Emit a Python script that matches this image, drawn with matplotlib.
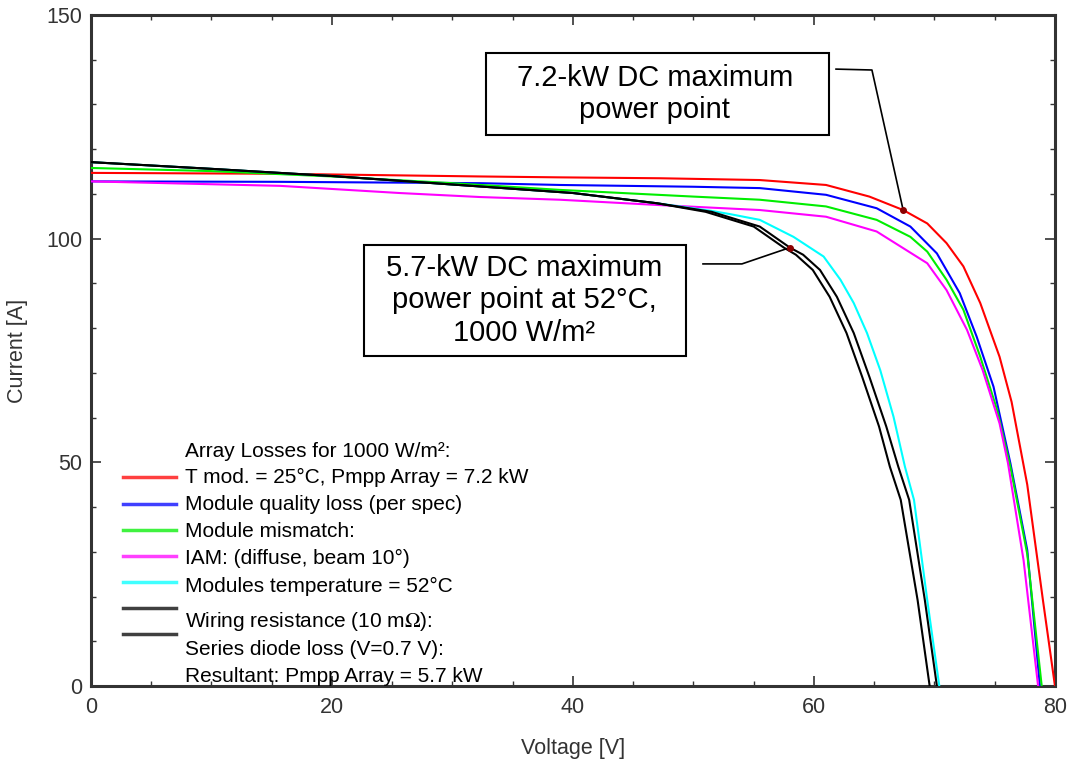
import matplotlib
matplotlib.use("Agg")
import matplotlib.pyplot as plt
from matplotlib.patches import Rectangle
from matplotlib.ticker import MultipleLocator

plt.rcParams['font.family'] = ['Liberation Sans', 'DejaVu Sans']
plt.rcParams['mathtext.fontset'] = 'stix'

# I-V curves (voltage [V], current [A])
red_v = [0, 15.7, 32.3, 38.9, 47.2, 55.5, 61.0, 64.6, 67.4, 69.4, 71.0, 72.4, 73.8, 75.4, 76.4, 77.7, 79.0, 80.0]
red_i = [114.7, 114.5, 113.9, 113.7, 113.5, 113.1, 112.0, 109.4, 106.4, 103.4, 99.0, 93.8, 85.6, 73.6, 63.5, 45.0, 19.2, 0]

blue_v = [0, 15.7, 32.3, 38.9, 50.0, 55.5, 61.0, 65.2, 68.0, 70.2, 72.1, 73.5, 74.9, 76.3, 77.7, 78.75]
blue_i = [112.8, 112.7, 112.4, 112.0, 111.6, 111.3, 109.8, 106.8, 102.7, 96.7, 87.8, 78.1, 66.9, 49.8, 30.4, 0]

green_v = [0, 10, 20, 30, 38.9, 50.0, 55.5, 61.0, 65.2, 68.0, 69.4, 71.0, 72.4, 73.8, 75.2, 76.3, 77.7, 78.9]
green_i = [115.8, 115.1, 113.9, 112.4, 110.9, 109.4, 108.7, 107.2, 104.2, 100.4, 97.1, 90.8, 84.1, 73.6, 61.7, 49.0, 29.5, 0]

magenta_v = [0, 15.7, 25.6, 32.3, 38.9, 47.2, 55.5, 61.0, 65.2, 69.4, 71.0, 72.7, 74.0, 75.4, 76.1, 77.4, 78.6]
magenta_i = [112.8, 111.8, 110.2, 109.3, 108.7, 107.5, 106.4, 104.9, 101.6, 94.5, 88.5, 79.6, 70.6, 58.7, 49.8, 28.0, 0]

cyan_v = [0, 10, 20, 30, 40, 47.0, 51.5, 53.0, 55.5, 58.3, 60.8, 62.2, 63.3, 64.4, 65.5, 66.6, 67.55, 68.3, 69.4, 70.4]
cyan_i = [117.1, 115.6, 114.0, 112.1, 110.2, 107.9, 106.2, 105.5, 104.2, 100.4, 96.0, 90.8, 85.6, 78.9, 70.6, 60.2, 49.0, 41.6, 19.2, 0]

wiring_v = [0, 10, 20, 30, 40, 47.0, 51.5, 55.5, 58.0, 59.1, 60.5, 61.9, 63.3, 64.6, 66.0, 67.0, 67.9, 69.2, 70.2]
wiring_i = [117.1, 115.6, 114.0, 112.1, 110.2, 107.9, 106.0, 102.7, 98.0, 96.4, 93.0, 87.0, 78.9, 69.1, 58.0, 49.0, 41.6, 19.2, 0]

diode_v = [0, 10, 20, 30, 40, 47.0, 51.0, 55.0, 57.5, 58.5, 59.9, 61.3, 62.7, 64.0, 65.4, 66.3, 67.2, 68.6, 69.6]
diode_i = [117.1, 115.6, 114.0, 112.1, 110.2, 107.9, 106.0, 102.7, 98.0, 96.4, 93.0, 87.0, 78.9, 69.1, 58.0, 49.0, 41.6, 19.2, 0]

# maximum power points
mpp_v = [67.4, 58.0]
mpp_i = [106.4, 98.0]

legend_title = "Array Losses for 1000 W/m\u00b2:"
legend_labels = [
    "T mod. = 25\u00b0C, Pmpp Array = 7.2 kW",
    "Module quality loss (per spec)",
    "Module mismatch:",
    "IAM: (diffuse, beam 10\u00b0)",
    "Modules temperature = 52\u00b0C",
    "Wiring resistance (10 m$\\Omega$):",
    "Series diode loss (V=0.7 V):",
    "Resultant: Pmpp Array = 5.7 kW",
]
colors = ["#ff0000", "#0000ff", "#00ee00", "#ff00ff", "#00ffff", "#000000", "#000000"]

fig = plt.figure(figsize=(10.68, 7.68), dpi=100)
ax = fig.add_axes([0.0852, 0.1068, 0.9026, 0.8737])

curves = [(red_v, red_i), (blue_v, blue_i), (green_v, green_i), (magenta_v, magenta_i),
          (cyan_v, cyan_i), (wiring_v, wiring_i), (diode_v, diode_i)]
for (v, i), c in zip(curves, colors):
    ax.plot(v, i, color=c, linewidth=1.5, zorder=3)

ax.plot(mpp_v, mpp_i, linestyle="none", marker="o", markersize=4, color="#8b0000", zorder=5)

# leader lines from the boxes to the MPP markers
ax.plot([61.83, 64.81, mpp_v[0]], [137.9, 137.7, mpp_i[0]], color="black", linewidth=1.2, zorder=4)
ax.plot([50.79, 54.02, mpp_v[1]], [94.35, 94.35, mpp_i[1]], color="black", linewidth=1.2, zorder=4)

# annotation boxes
ax.add_patch(Rectangle((0.4098, 0.8212), 0.3558, 0.1222, transform=ax.transAxes,
                       facecolor="white", edgecolor="black", linewidth=1.5, zorder=6))
ax.text(0.585, 0.882, "7.2-kW DC maximum\npower point", transform=ax.transAxes,
        ha="center", va="center", fontsize=21, zorder=7)
ax.add_patch(Rectangle((0.2832, 0.4918), 0.3340, 0.1654, transform=ax.transAxes,
                       facecolor="white", edgecolor="black", linewidth=1.5, zorder=6))
ax.text(0.4492, 0.5745, "5.7-kW DC maximum\npower point at 52\u00b0C,\n1000 W/m\u00b2", transform=ax.transAxes,
        ha="center", va="center", fontsize=21, zorder=7)

# hand-drawn legend
text_y = [0.3021, 0.2623, 0.2216, 0.1818, 0.1405, 0.0884, 0.0462, 0.0064]
line_y = [0.3110, 0.2712, 0.2325, 0.1942, 0.1545, 0.1158, 0.0770]
ax.text(0.0975, 0.3413, legend_title, transform=ax.transAxes, fontsize=15, va="baseline")
for lbl, ty in zip(legend_labels, text_y):
    ax.text(0.0975, ty, lbl, transform=ax.transAxes, fontsize=15, va="baseline", clip_on=True)
for c, ly in zip(colors, line_y):
    ax.plot([0.0332, 0.0882], [ly, ly], transform=ax.transAxes, color=c, linewidth=2.5, alpha=0.75)

ax.set_xlim(0, 80)
ax.set_ylim(0, 150)
ax.xaxis.set_major_locator(MultipleLocator(20))
ax.xaxis.set_minor_locator(MultipleLocator(5))
ax.yaxis.set_major_locator(MultipleLocator(50))
ax.yaxis.set_minor_locator(MultipleLocator(10))
ax.tick_params(which="both", direction="in", top=True, right=True, color="#333333",
               labelsize=15.5, labelcolor="#333333")
ax.tick_params(which="major", length=7, width=1.2)
ax.tick_params(which="minor", length=3.5, width=1)
ax.tick_params(axis="x", pad=8)
ax.tick_params(axis="y", pad=6)
for s in ax.spines.values():
    s.set_linewidth(2.2)
    s.set_color("#333333")

ax.set_xlabel("Voltage [V]", fontsize=15.5, color="#333333")
ax.set_ylabel("Current [A]", fontsize=15.5, color="#333333")
ax.xaxis.set_label_coords(0.5, -0.0775)
ax.yaxis.set_label_coords(-0.065, 0.5)

plt.savefig("out.png", dpi=100)
